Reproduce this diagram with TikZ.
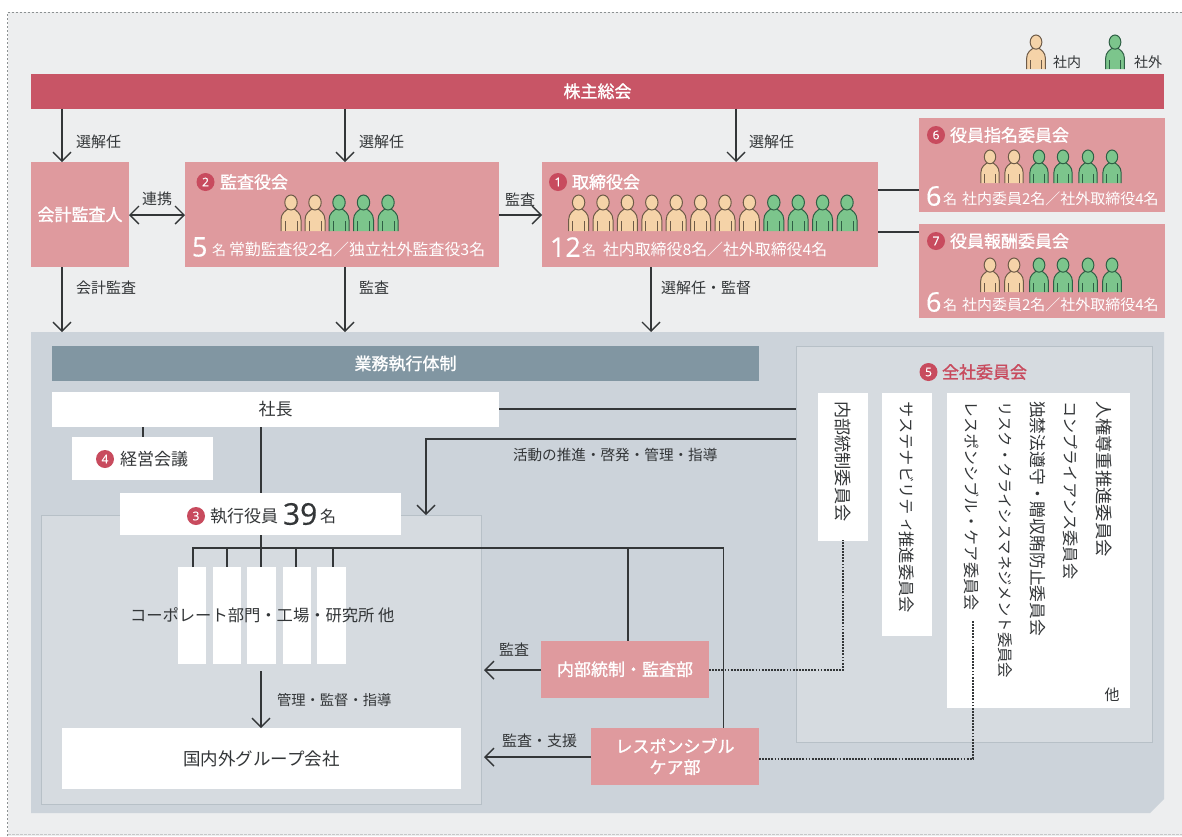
\documentclass[tikz,border=0pt]{standalone}
\usepackage{fontspec}
\usetikzlibrary{arrows.meta,calc}
\setmainfont{Noto Sans CJK JP}
\newfontfamily\vfont[Vertical=RotatedGlyphs]{Noto Sans CJK JP}
\newfontfamily\medf[FakeBold=1.2]{Noto Sans CJK JP}
\newfontfamily\lat[FakeBold=0.4]{Open Sans}
\definecolor{pagebg}{HTML}{EDEEEF}
\definecolor{bordergray}{HTML}{8C9192}
\definecolor{barred}{HTML}{C85566}
\definecolor{pinkbox}{HTML}{DF9A9E}
\definecolor{panel}{HTML}{CCD3DA}
\definecolor{inner}{HTML}{D6DBE0}
\definecolor{innerline}{HTML}{B7C0C7}
\definecolor{slate}{HTML}{8196A2}
\definecolor{ink}{HTML}{333638}
\definecolor{dotred}{HTML}{C84B5E}
\definecolor{tanfill}{HTML}{F5D3A8}
\definecolor{tanline}{HTML}{6E5B48}
\definecolor{greenfill}{HTML}{7CC58C}
\definecolor{greenline}{HTML}{2F5F45}
\newcommand{\fs}[1]{\fontsize{#1}{#1}\selectfont}
\tikzset{
  x=1pt,y=-1pt,
  flat/.style={inner sep=0pt,outer sep=0pt,draw=none,align=center},
  pinkb/.style={flat,fill=pinkbox,text=white,font=\fs{17}\medf},
  whiteb/.style={flat,fill=white,text=ink,font=\fs{17}},
  lab/.style={inner sep=0pt,outer sep=0pt,text=ink,font=\fs{15}},
  wlab/.style={inner sep=0pt,outer sep=0pt,text=white,font=\fs{17}\medf},
  wsmall/.style={inner sep=0pt,outer sep=0pt,text=white},
  bignum/.style={inner sep=0pt,outer sep=0pt,text=white,font=\fs{27}\lat},
  numdot/.style={circle,fill=dotred,text=white,inner sep=0pt,outer sep=0pt,minimum size=18pt,font=\fs{12}\lat},
  vtext/.style={inner sep=0pt,outer sep=0pt,text=ink,rotate=-90,anchor=west},
  ln/.style={draw=ink,line width=1.6pt},
  arr/.style={draw=ink,line width=1.4pt,-{Straight Barb[length=9pt,width=18pt,line width=1.4pt]}},
  arrb/.style={draw=ink,line width=1.4pt,{Straight Barb[length=9pt,width=18pt,line width=1.4pt]}-{Straight Barb[length=9pt,width=18pt,line width=1.4pt]}},
  dots/.style={draw=ink,line width=2pt,dash pattern=on 1.8pt off 1.3pt},
}
% name, x0, y0, x1, y1, style, text
\newcommand{\bx}[7]{\node[#6,anchor=north west,minimum width={(#4-#2)*1pt},minimum height={(#5-#3)*1pt}] (#1) at (#2,#3) {#7};}
% cx, top, height, fill, line
\newcommand{\person}[5]{%
  \begin{scope}[shift={(#1,#2)},scale=#3/36]
    \fill[#4] (-10,36) -- (-10,25) .. controls (-10,18) and (-5,15.5) .. (-3,14) -- (3,14) .. controls (5,15.5) and (10,18) .. (10,25) -- (10,36) -- cycle;
    \draw[#5,line width=1pt] (-10,36) -- (-10,25) .. controls (-10,18) and (-5,15.5) .. (-3,14);
    \draw[#5,line width=1pt] (10,36) -- (10,25) .. controls (10,18) and (5,15.5) .. (3,14);
    \draw[#5,line width=1pt] (-6,36) -- (-6,26) (6,36) -- (6,26);
    \draw[#5,line width=1pt,fill=#4] (0,7.5) ellipse [x radius=6.2,y radius=7.5];
  \end{scope}}
\newcommand{\tanp}[3]{\person{#1}{#2}{#3}{tanfill}{tanline}}
\newcommand{\grnp}[3]{\person{#1}{#2}{#3}{greenfill}{greenline}}
\begin{document}
\begin{tikzpicture}
\useasboundingbox (0,0) rectangle (1182,836);
\fill[white] (0,0) rectangle (1182,836);
\fill[pagebg] (8,12) rectangle (1182,836);
\draw[bordergray,line width=1pt,dash pattern=on 2.5pt off 1.5pt] (7.5,836) -- (7.5,12) -- (1182,12);
\draw[bordergray!50,line width=1pt,dash pattern=on 2.5pt off 1.5pt] (8,834) -- (1182,834);

% top row
\bx{gm}{31}{74}{1164}{108.5}{flat,fill=barred,text=white,font=\fs{17}\medf}{株主総会}
\bx{acc}{31}{162}{129}{267}{pinkb}{会計監査人}
\bx{kan}{185}{162}{499}{267}{pinkb}{}
\bx{tor}{542}{162}{878}{267}{pinkb}{}
\bx{nom}{919}{118}{1165}{212}{pinkb}{}
\bx{rem}{919}{224}{1165}{318}{pinkb}{}

% lower panel
\fill[panel] (31,332) -- (1164,332) -- (1164,799) -- (1150,813) -- (31,813) -- cycle;
\coordinate (panelA) at (62,332);
\coordinate (panelB) at (345,332);
\coordinate (panelC) at (651,332);
\bx{inbox}{41}{515}{481}{804}{flat,fill=inner,draw=innerline,line width=0.8pt}{}
\bx{zen}{796}{346}{1152}{742}{flat,fill=inner,draw=innerline,line width=1pt}{}
\bx{gyo}{52}{346}{759}{381}{flat,fill=slate,text=white,font=\fs{17}\medf}{業務執行体制}
\bx{pres}{52}{392}{499}{427}{whiteb}{社長}
\bx{keiei}{72}{437}{213}{480}{whiteb}{}
\bx{shik}{120}{493}{401}{535}{whiteb}{}
\bx{p1}{178}{567}{206}{664}{whiteb}{}
\bx{p2}{213}{567}{241}{664}{whiteb}{}
\bx{p3}{247}{567}{276}{664}{whiteb}{}
\bx{p4}{283}{567}{311}{664}{whiteb}{}
\bx{p5}{317}{567}{346}{664}{whiteb}{}
\bx{grp}{62}{728}{461}{789}{whiteb,font=\fs{17.5}}{国内外グループ会社}
\bx{naibu}{541}{641}{709}{697.5}{pinkb}{内部統制・監査部}
\bx{resp}{591}{728}{759}{785}{pinkb}{レスポンシブル\\[4pt]ケア部}
\bx{v1}{818}{393}{868}{541}{whiteb}{}
\bx{v2}{882}{393}{932}{636}{whiteb}{}
\bx{v3}{947}{393}{1130}{708}{whiteb}{}

% connectors
\coordinate (xa) at (62,0);
\coordinate (xb) at (345,0);
\coordinate (xc) at (736,0);
\coordinate (xd) at (651,0);
\draw[arr] (xa |- gm.south) -- (xa |- acc.north);
\draw[arr] (xb |- gm.south) -- (xb |- kan.north);
\draw[arr] (xc |- gm.south) -- (xc |- tor.north);
\draw[arr] (xa |- acc.south) -- (panelA);
\draw[arr] (xb |- kan.south) -- (panelB);
\draw[arr] (xd |- tor.south) -- (panelC);
\coordinate (ya) at (0,215);
\draw[arrb] (acc.east |- ya) -- (kan.west |- ya);
\draw[arr] (kan.east |- ya) -- (tor.west |- ya);
\coordinate (yb) at (0,190);
\coordinate (yc) at (0,232);
\draw[ln] (tor.east |- yb) -- (nom.west |- yb);
\draw[ln] (tor.east |- yc) -- (rem.west |- yc);

\coordinate (xk) at (143,0);
\coordinate (xm) at (261,0);
\draw[ln] (xk |- pres.south) -- (xk |- keiei.north);
\draw[ln] (xm |- pres.south) -- (xm |- shik.north);
\draw[ln] (xm |- shik.south) -- (xm |- p3.north);
\coordinate (yh) at (0,548);
\coordinate (xr) at (723.5,0);
\coordinate (xn) at (628,0);
\coordinate (x1) at (193,0);
\coordinate (x2) at (227,0);
\coordinate (x4) at (296,0);
\coordinate (x5) at (333,0);
\draw[ln,line cap=square] (x1 |- p1.north) -- (x1 |- yh) -- (xr |- yh) -- (xr |- resp.north);
\draw[ln] (x2 |- yh) -- (x2 |- p2.north);
\draw[ln] (x4 |- yh) -- (x4 |- p4.north);
\draw[ln] (x5 |- yh) -- (x5 |- p5.north);
\draw[ln] (xn |- yh) -- (xn |- naibu.north);
\coordinate (ypres) at (0,409);
\coordinate (yact) at (0,439);
\coordinate (xact) at (426,0);
\coordinate (actend) at (426,515);
\draw[ln] (pres.east |- ypres) -- (zen.west |- ypres);
\draw[arr,line join=miter] (zen.west |- yact) -- (xact |- yact) -- (actend);
\coordinate (yg) at (0,671);
\draw[arr] (xm |- yg) -- (xm |- grp.north);
\coordinate (aud1) at (484,670);
\coordinate (aud2) at (484,757);
\draw[arr] (naibu.west |- aud1) -- (aud1);
\draw[arr] (resp.west |- aud2) -- (aud2);
\coordinate (yd1) at (0,670);
\coordinate (yd2) at (0,759);
\coordinate (xd1) at (843,540);
\coordinate (xd2) at (973,621);
\draw[dots] (naibu.east |- yd1) -- (xd1 |- yd1) -- (xd1);
\draw[dots] (resp.east |- yd2) -- (xd2 |- yd2) -- (xd2);

% labels on connectors
\node[lab,anchor=west] (l1) at (76,142) {選解任};
\node[lab,anchor=west] (l2) at (359,142) {選解任};
\node[lab,anchor=west] (l3) at (749,142) {選解任};
\node[lab,anchor=west] (l4) at (76,288) {会計監査};
\node[lab,anchor=west] (l5) at (359,288) {監査};
\node[lab,anchor=west] (l6) at (661,288) {選解任・監督};
\node[lab] (l7) at (157,199) {連携};
\node[lab] (l8) at (520,200) {監査};
\node[lab,anchor=west,font=\fs{14.6}] (l9) at (513,455) {活動の推進・啓発・管理・指導};
\node[lab,anchor=west,font=\fs{14.3}] (l10) at (277,700) {管理・監督・指導};
\node[lab,anchor=west] (l11) at (499,650) {監査};
\node[lab,anchor=west] (l12) at (502,741) {監査・支援};

% legend
\tanp{1036}{35}{34}
\node[lab,anchor=west,font=\fs{14}] (leg1) at (1053,62) {社内};
\grnp{1115}{35}{34}
\node[lab,anchor=west,font=\fs{14}] (leg2) at (1134,62) {社外};

% kansa
\node[numdot] (n2) at (205.5,182) {2};
\node[wlab,anchor=west] (t2) at (220,182) {監査役会};
\tanp{291}{195}{36}\tanp{315}{195}{36}
\grnp{339}{195}{36}\grnp{363.5}{195}{36}\grnp{388}{195}{36}
\node[bignum,anchor=west] (c2) at (192,247) {5};
\node[wsmall,anchor=west,font=\fs{15.9}] (d2) at (212,249) {{\fs{14}名}\hspace{3pt}常勤監査役2名／独立社外監査役3名};

% torishimari
\node[numdot] (n1) at (558,182) {1};
\node[wlab,anchor=west] (t1) at (572,182) {取締役会};
\foreach \i in {0,...,7} {\tanp{578.6+24.4*\i}{195}{36}}
\foreach \i in {8,...,11} {\grnp{578.6+24.4*\i}{195}{36}}
\node[bignum,anchor=west] (c1) at (550,247) {12};
\node[wsmall,anchor=west,font=\fs{15.9}] (d1) at (582,249) {{\fs{14}名}\hspace{7pt}社内取締役8名／社外取締役4名};

% nomination
\node[numdot] (n6) at (936,135) {6};
\node[wlab,anchor=west] (t6) at (950,135) {役員指名委員会};
\tanp{990}{150}{33}\tanp{1014}{150}{33}
\grnp{1039}{150}{33}\grnp{1063}{150}{33}\grnp{1088}{150}{33}\grnp{1112}{150}{33}
\node[bignum,anchor=west] (c6) at (926,196) {6};
\node[wsmall,anchor=west,font=\fs{15}] (d6) at (943,199) {{\fs{14}名}\hspace{5pt}社内委員2名／社外取締役4名};

% remuneration
\node[numdot] (n7) at (936,241) {7};
\node[wlab,anchor=west] (t7) at (950,241) {役員報酬委員会};
\tanp{990}{258}{34}\tanp{1014}{258}{34}
\grnp{1039}{258}{34}\grnp{1063}{258}{34}\grnp{1088}{258}{34}\grnp{1112}{258}{34}
\node[bignum,anchor=west] (c7) at (926,302) {6};
\node[wsmall,anchor=west,font=\fs{15}] (d7) at (943,305) {{\fs{14}名}\hspace{5pt}社内委員2名／社外取締役4名};

% executive side
\node[numdot] (n4) at (105,459) {4};
\node[lab,anchor=west,font=\fs{17}] (t4) at (120,459) {経営会議};
\node[numdot] (n3) at (196,516) {3};
\node[lab,anchor=west,font=\fs{17}] (t3) at (210,516) {執行役員};
\node[lab,anchor=west,font=\fs{30}\lat] (c3) at (283,514) {39};
\node[lab,anchor=west,font=\fs{16}] (u3) at (320,516) {名};
\node[lab,anchor=west,font=\fs{16.3}] (corp) at (130,615) {コーポレート部門・工場・研究所 他};

% company-wide committees
\node[numdot] (n5) at (928.5,372) {5};
\node[lab,anchor=west,text=dotred,font=\fs{17}\medf] (t5) at (942,372) {全社委員会};
\node[vtext,font=\fs{17.2}\vfont] (va) at (843,401) {内部統制委員会};
\node[vtext,font=\fs{16.3}\vfont] (vb) at (907,401) {サステナビリティ推進委員会};
\node[vtext,font=\fs{17.3}\vfont] (vc) at (1104,401) {人権尊重推進委員会};
\node[vtext,font=\fs{16.2}\vfont] (vd) at (1071,401) {コンプライアンス委員会};
\node[vtext,font=\fs{16.8}\vfont] (ve) at (1038,401) {独禁法遵守・贈収賄防止委員会};
\node[vtext,font=\fs{15.4}\vfont] (vf) at (1005,401) {リスク・クライシスマネジメント委員会};
\node[vtext,font=\fs{16.1}\vfont] (vg) at (972,401) {レスポンシブル・ケア委員会};
\node[lab] (oth) at (1112,695) {他};
\end{tikzpicture}
\end{document}
